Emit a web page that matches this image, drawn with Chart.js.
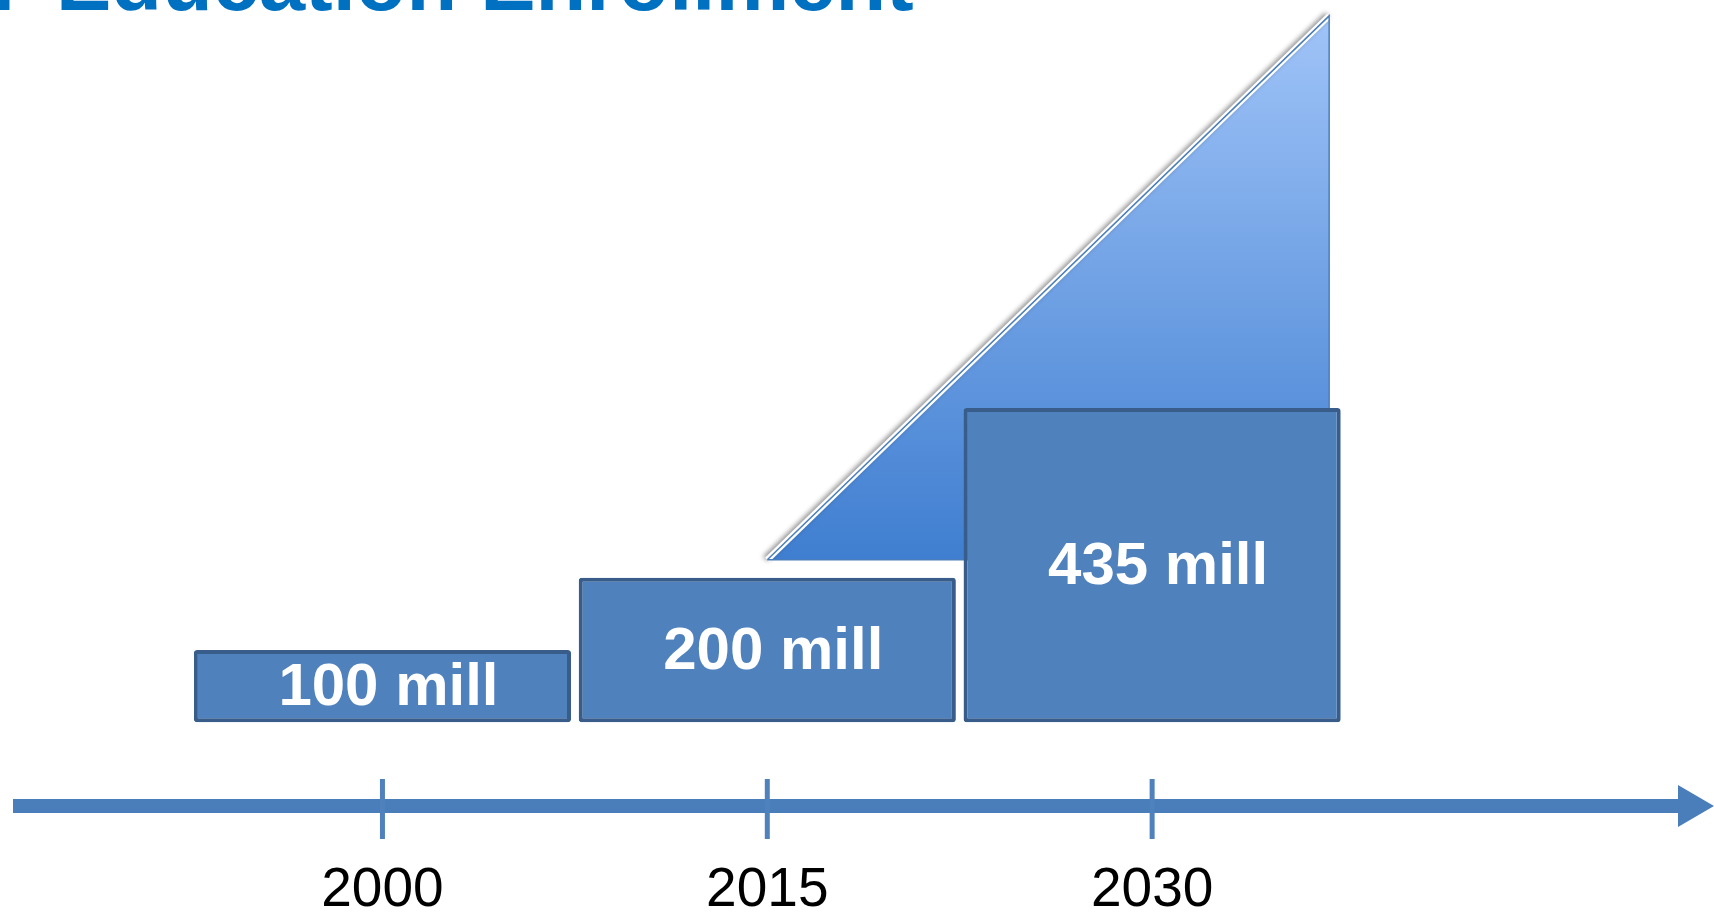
<!DOCTYPE html>
<html><head><meta charset="utf-8">
<script src="https://cdn.jsdelivr.net/npm/chart.js@4"></script>
<style>html,body{margin:0;padding:0;background:#fff;overflow:hidden}#wrap{width:1714px;height:916px;position:relative}</style>
</head><body><div id="wrap"><canvas id="c"></canvas></div>
<script>
// ---- data ----
const titleWords = ['Higher', 'Education Enrollment'];
const years = [2000, 2015, 2030];
const enrollment = [100, 200, 435];
const unitLabel = 'mill';
// growth wedge behind the bars (data units: year, million)
const trendX = [2015, 2036.9];
const trendY = [225, 978];
// axis ranges
const xRange = [1985.6, 2051.9];
const yRange = [-116, 1000];

const BLUE = '#4F81BD', DARK = '#385D8A', AXIS = '#4A7EBB';

const barData = years.map((y, i) => ({x: y, y: enrollment[i]}));
const wedgeFill = trendX.map((x, i) => ({x, y: trendY[i]}));
const wedgeOutline = [
  {x: trendX[0], y: trendY[0]}, {x: trendX[1], y: trendY[1]},
  {x: trendX[1], y: trendY[0]}, {x: trendX[0], y: trendY[0]}
];

const decor = {
  id: 'decor',
  beforeDatasetDraw(chart, args) {
    const ds = chart.data.datasets[args.index];
    if (ds.shadow) {
      const c = chart.ctx; c.save();
      c.shadowColor = 'rgba(0,0,0,0.45)'; c.shadowBlur = 5;
      c.shadowOffsetX = -2; c.shadowOffsetY = -1;
    }
  },
  afterDatasetDraw(chart, args) {
    const ds = chart.data.datasets[args.index];
    if (ds.shadow) chart.ctx.restore();
  },
  afterDatasetsDraw(chart) {
    const c = chart.ctx, a = chart.chartArea, xs = chart.scales.x;
    // bar labels
    const meta = chart.getDatasetMeta(0);
    c.save();
    c.fillStyle = '#fff';
    c.font = 'bold 60px "Liberation Sans", Arial, sans-serif';
    c.textAlign = 'center'; c.textBaseline = 'middle';
    meta.data.forEach((el, i) => {
      c.fillText(enrollment[i] + ' ' + unitLabel, el.x + 6, (el.y + el.base) / 2 + 2);
    });
    c.restore();
    // time axis arrow
    const y0 = xs.top;
    c.save();
    c.fillStyle = AXIS;
    c.fillRect(a.left, y0 - 7, a.right - a.left - 34, 14);
    c.beginPath();
    c.moveTo(a.right - 36, y0 - 21);
    c.lineTo(a.right, y0);
    c.lineTo(a.right - 36, y0 + 21);
    c.closePath(); c.fill();
    c.strokeStyle = BLUE; c.lineWidth = 5;
    xs.ticks.forEach(t => {
      const px = xs.getPixelForValue(t.value);
      c.beginPath(); c.moveTo(px, y0 - 27); c.lineTo(px, y0 + 33); c.stroke();
    });
    c.restore();
    // title (partly off the top-left edge, as in the source)
    c.save();
    c.fillStyle = '#0070C0';
    c.textBaseline = 'alphabetic';
    const inkLeft = 61, inkRight = 913, base = 10;
    c.font = 'bold 100px "Liberation Sans", Arial, sans-serif';
    c.textAlign = 'left';
    const m = c.measureText(titleWords[1]);
    const size = 100 * (inkRight - inkLeft) / (m.actualBoundingBoxLeft + m.actualBoundingBoxRight);
    c.font = 'bold ' + size.toFixed(1) + 'px "Liberation Sans", Arial, sans-serif';
    const m2 = c.measureText(titleWords[1]);
    c.fillText(titleWords[1], inkLeft + m2.actualBoundingBoxLeft, base);
    // the preceding word: only the foot of its last letter shows at the left edge
    const rW = c.measureText('r').width;
    c.textAlign = 'right';
    c.fillText(titleWords[0], -0.07 * size - 2 + rW, base);
    c.restore();
  }
};

new Chart(document.getElementById('c'), {
  type: 'bar',
  data: {
    datasets: [
      {
        type: 'bar', data: barData, order: 0,
        backgroundColor: BLUE, borderColor: DARK, borderWidth: 4,
        borderRadius: 3, borderSkipped: false,
        barPercentage: 0.98, categoryPercentage: 1
      },
      {
        type: 'line', data: wedgeOutline, order: 1,
        borderColor: AXIS, borderWidth: 1.5, pointRadius: 0, fill: false, tension: 0
      },
      {
        type: 'line', data: wedgeFill, order: 2, shadow: true,
        borderColor: '#ffffff', borderWidth: 6, pointRadius: 0, fill: false, tension: 0
      },
      {
        type: 'line', data: wedgeFill, order: 3,
        borderWidth: 0, pointRadius: 0, tension: 0,
        fill: {value: trendY[0]},
        backgroundColor: (ctx) => {
          const ch = ctx.chart;
          if (!ch.chartArea) return 'rgba(0,0,0,0)';
          const ys = ch.scales.y;
          const g = ch.ctx.createLinearGradient(0, ys.getPixelForValue(trendY[1]), 0, ys.getPixelForValue(trendY[0]));
          g.addColorStop(0, '#A0C4F8');
          g.addColorStop(1, '#3F7ED0');
          return g;
        }
      }
    ]
  },
  options: {
    responsive: true, maintainAspectRatio: false, animation: false,
    layout: {padding: {left: 13, right: 0, top: 0, bottom: 0}},
    plugins: {legend: {display: false}, tooltip: {enabled: false}, title: {display: false}},
    scales: {
      x: {
        type: 'linear', position: 'bottom', offset: false,
        min: xRange[0], max: xRange[1],
        grid: {display: false, drawTicks: false},
        border: {display: false},
        afterBuildTicks: (s) => { s.ticks = years.map(v => ({value: v})); },
        afterFit: (s) => { s.height = 110; },
        ticks: {
          padding: 52, color: '#000',
          font: {family: '"Liberation Sans Narrow", "Liberation Sans", sans-serif', size: 55},
          callback: (v) => String(v)
        }
      },
      y: {type: 'linear', display: false, min: yRange[0], max: yRange[1]}
    }
  },
  plugins: [decor]
});
</script>
</body></html>
